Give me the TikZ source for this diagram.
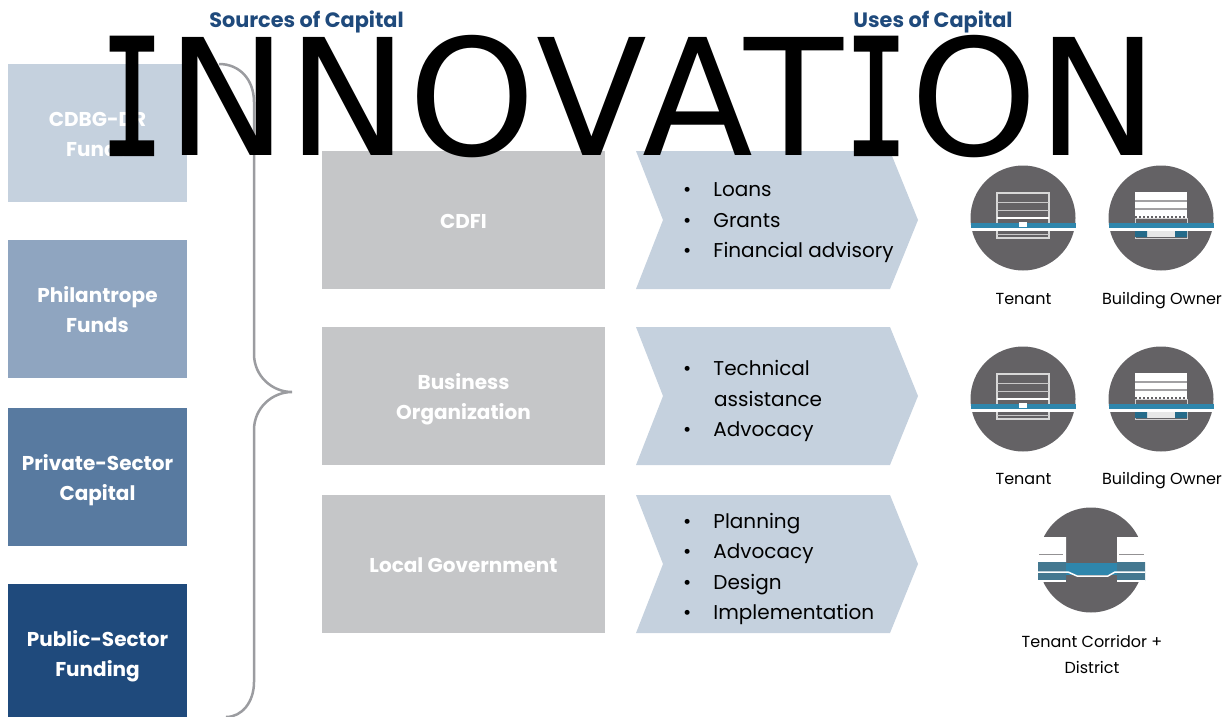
\documentclass[tikz,border=0pt]{standalone}
\usepackage{fontspec}
\setmainfont{Poppins}
\newfontfamily\titlefont[Kerning=Off]{DejaVu Sans}
\newfontfamily\titlemono[FakeStretch=0.64,FakeBold=1.5]{DejaVu Sans Mono}
\usepackage{tikz}

\definecolor{srcone}{HTML}{C5D1DE}
\definecolor{srctwo}{HTML}{8FA5C0}
\definecolor{srcthree}{HTML}{587AA0}
\definecolor{srcfour}{HTML}{1F4A7C}
\definecolor{midgrey}{HTML}{C5C6C8}
\definecolor{bracegrey}{HTML}{9B9CA0}
\definecolor{icongrey}{HTML}{646265}
\definecolor{iconblue}{HTML}{2F86AC}

\newcommand{\serifI}{\makebox[68.5pt]{\titlemono I}}
\newcommand{\firstline}{\rule{0pt}{22.5pt}}

\tikzset{
  boxtext/.style={inner sep=0pt, align=center, text=white,
    font=\fontsize{20}{30}\selectfont\bfseries,
    execute at begin node={\rule{0pt}{22.5pt}},
    execute at end node={\rule[-5pt]{0pt}{5pt}}},
  srcbox/.style={boxtext, minimum width=179pt, minimum height=138pt},
  midbox/.style={boxtext, fill=midgrey, minimum width=283pt, minimum height=138pt},
  heading/.style={text=srcfour, inner sep=0pt, anchor=base, font=\fontsize{20.8}{24}\selectfont\bfseries},
  usetext/.style={anchor=west, inner sep=0pt, align=left,
    font=\fontsize{20}{30.5}\selectfont},
  iconlabel/.style={inner sep=0pt, align=center, font=\fontsize{16}{26}\selectfont},
  chevron/.style={fill=srcone},
  pics/tenant/.style={code={
      \fill[icongrey] (0,0) circle (52.5);
      \draw[white!75!icongrey, line width=1.2pt] (-26,-25) rectangle (26,20);
      \draw[white!65!icongrey, line width=1pt] (-26,-16) -- (26,-16) (-26,-8) -- (26,-8) (-26,16) -- (26,16);
      \draw[white, line width=1.6pt] (-26,0) -- (26,0);
      \fill[iconblue] (-52.5,5) rectangle (52.5,10);
      \fill[white] (-52.5,10) rectangle (52.5,13);
      \fill[white] (-4,4) rectangle (4,9);
    }},
  pics/owner/.style={code={
      \fill[icongrey] (0,0) circle (52.5);
      \fill[white] (-26,-26) rectangle (26,0);
      \draw[icongrey!60!white, line width=1.6pt] (-26,-17) -- (26,-17) (-26,-9) -- (26,-9);
      \draw[icongrey, line width=1.6pt, dash pattern=on 2pt off 2pt] (-26,-1) -- (26,-1);
      \draw[white!70!icongrey, line width=1pt] (-26,0) rectangle (26,20);
      \fill[iconblue] (-52.5,5) rectangle (52.5,10);
      \fill[white] (-52.5,10) rectangle (52.5,13);
      \fill[white!85!icongrey] (-14,13) rectangle (14,19);
      \fill[iconblue!80!black] (-26,13) rectangle (-14,19) (14,13) rectangle (26,19);
    }},
}

\begin{document}
\begin{tikzpicture}[x=1pt, y=-1pt]
  \useasboundingbox (0,0) rectangle (1228,717);

  % brace
  \coordinate (bracetop) at (219,64);
  \coordinate (bracetip) at (292,392);
  \coordinate (bracebot) at (226,717);
  \draw[bracegrey, line width=2.5pt]
    (bracetop) .. controls (240,64) and (254,80) .. (254,102)
    -- (254,354) .. controls (254,376) and (272,392) .. (bracetip)
    .. controls (272,392) and (254,408) .. (254,430)
    -- (254,682) .. controls (254,702) and (242,717) .. (bracebot);

  % sources
  \node[srcbox, fill=srcone] (cdbg) at (97.5,133) {\firstline CDBG-DR\\Funds};
  \node[srcbox, fill=srctwo] (phil) at (97.5,309) {\firstline Philantrope\\Funds};
  \node[srcbox, fill=srcthree] (priv) at (97.5,477) {\firstline Private-Sector\\Capital};
  \node[srcbox, fill=srcfour] (pub) at (97.5,653) {\firstline Public-Sector\\Funding};

  \node[heading] (sources) at (306.5,28) {Sources of Capital};
  \node[heading] (uses) at (933,28) {Uses of Capital};

  % organisations
  \node[midbox] (cdfi) at (463.5,220) {CDFI};
  \node[midbox] (busorg) at (463.5,396) {\firstline Business\\Organization};
  \node[midbox] (locgov) at (463.5,564) {Local Government};

  % uses
  \fill[chevron] (636,151) -- (890,151) -- (918,220) -- (890,289) -- (636,289) -- (663,220) -- cycle;
  \fill[chevron] (636,327) -- (890,327) -- (918,396) -- (890,465) -- (636,465) -- (663,396) -- cycle;
  \fill[chevron] (636,495) -- (890,495) -- (918,564) -- (890,633) -- (636,633) -- (663,564) -- cycle;

  \node[usetext] (cdfiuses) at (683,223) {\textbullet\hspace{22pt}Loans\\\textbullet\hspace{22pt}Grants\\\textbullet\hspace{22pt}Financial advisory};
  \node[usetext] (orguses) at (683,401) {\textbullet\hspace{22pt}Technical\\\hspace*{31pt}assistance\\\textbullet\hspace{22pt}Advocacy};
  \node[usetext] (govuses) at (683,569) {\textbullet\hspace{22pt}Planning\\\textbullet\hspace{22pt}Advocacy\\\textbullet\hspace{22pt}Design\\\textbullet\hspace{22pt}Implementation};

  % icons
  \pic at (1023,218) {tenant};
  \pic at (1161,218) {owner};
  \pic at (1023,399) {tenant};
  \pic at (1161,399) {owner};

  % corridor icon
  \fill[icongrey] (1091,560) circle (52.5);
  \fill[white] (1036,537) rectangle (1066,562) (1117,537) rectangle (1146,562);
  \fill[iconblue!60!icongrey] (1038,562) rectangle (1066,581) (1117,562) rectangle (1145,581);
  \fill[iconblue] (1066,563) rectangle (1117,575);
  \draw[white, line width=1.5pt] (1038,572) -- (1068,572) -- (1077,576) -- (1108,576) -- (1115,572) -- (1145,572);
  \draw[white, line width=1.2pt] (1038,581) -- (1066,581) (1117,581) -- (1145,581);
  \draw[icongrey!70!white, line width=1pt] (1039,554) -- (1063,554) (1119,554) -- (1144,554);

  \node[iconlabel, anchor=base] (tenone) at (1023.5,304) {Tenant};
  \node[iconlabel, anchor=base] (ownone) at (1162,304) {Building Owner};
  \node[iconlabel, anchor=base] (tentwo) at (1023.5,484) {Tenant};
  \node[iconlabel, anchor=base] (owntwo) at (1162,484) {Building Owner};
  \node[iconlabel] (corridor) at (1092,654) {Tenant Corridor +\\District};

  % title sits over everything
  \node[inner sep=0pt, anchor=base west, font=\fontsize{162}{170}\selectfont\titlefont] (title)
    at (97.5,155) {\serifI NNOV\kern-4.2pt A\kern-8.8pt T\kern-1.75pt\serifI ON};
\end{tikzpicture}
\end{document}
